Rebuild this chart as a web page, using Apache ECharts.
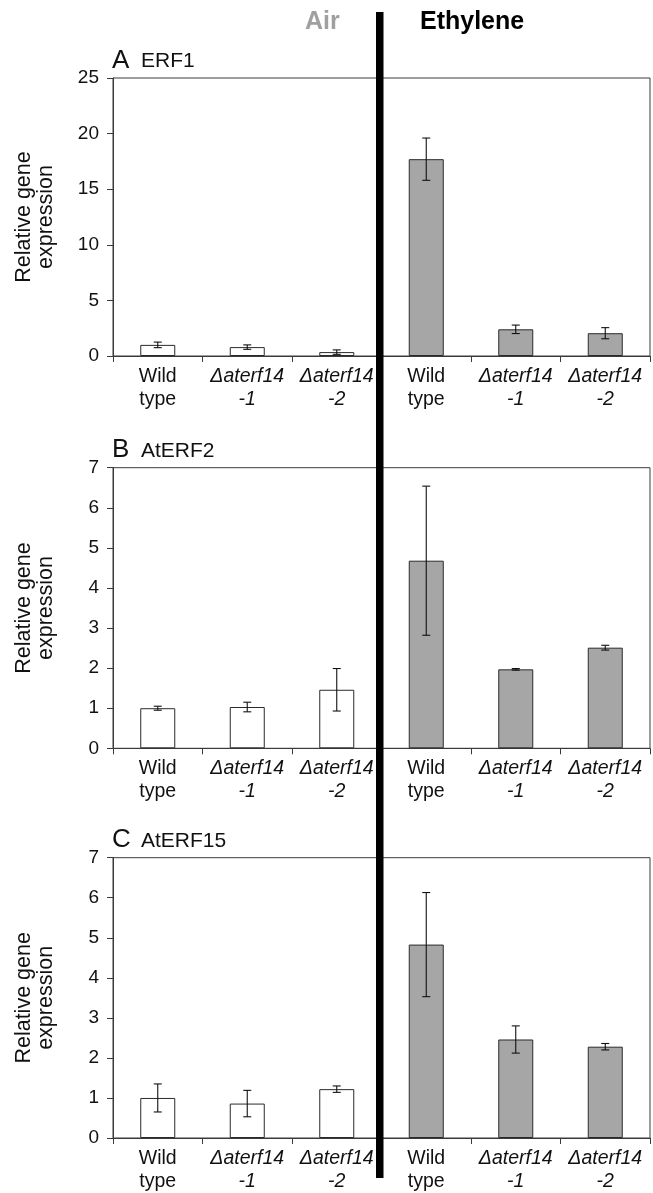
<!DOCTYPE html>
<html><head><meta charset="utf-8">
<script src="https://cdn.jsdelivr.net/npm/echarts@6/dist/echarts.min.js"></script>
<style>html,body{margin:0;padding:0;background:#fff}#c{width:653px;height:1193px}</style>
</head><body><div id="c"></div>
<script>
var categories = ['Wild type', 'Δaterf14 -1', 'Δaterf14 -2', 'Wild type ', 'Δaterf14 -1 ', 'Δaterf14 -2 '];
var treatments = ['Air', 'Ethylene'];
var panelLetters = ['A', 'B', 'C'];
var genes = ['ERF1', 'AtERF2', 'AtERF15'];
var erf1 = [1.0, 0.8, 0.35, 17.7, 2.4, 2.05];
var erf1Err = [0.25, 0.2, 0.2, 1.9, 0.38, 0.5];
var aterf2 = [1.0, 1.03, 1.46, 4.68, 1.97, 2.51];
var aterf2Err = [0.05, 0.12, 0.53, 1.86, 0.02, 0.06];
var aterf15 = [1.0, 0.86, 1.22, 4.83, 2.46, 2.28];
var aterf15Err = [0.35, 0.33, 0.08, 1.3, 0.34, 0.08];
var yMax = [25, 7, 7];
var yInterval = [5, 1, 1];

var values = [erf1, aterf2, aterf15];
var errs = [erf1Err, aterf2Err, aterf15Err];
var gridTops = [78, 467.7, 857.7];
var gridHeights = [278, 280.6, 282];
var FONT = '"Liberation Sans", Arial, sans-serif';
var AXC = '#3a3a3a';

var chart = echarts.init(document.getElementById('c'), null, {renderer: 'canvas'});

var grids = [], xAxes = [], yAxes = [], series = [], graphics = [];
for (var p = 0; p < 3; p++) {
  grids.push({left: 113, right: 3, top: gridTops[p], height: gridHeights[p], show: true,
    borderColor: AXC, borderWidth: 1, backgroundColor: 'transparent', containLabel: false});
  xAxes.push({type: 'category', gridIndex: p, data: categories,
    axisLine: {lineStyle: {color: AXC, width: 1}},
    axisTick: {show: true, inside: false, length: 6, alignWithLabel: false, lineStyle: {color: AXC}},
    axisLabel: {interval: 0, margin: 9, color: '#111', fontFamily: FONT, fontSize: 19.5, lineHeight: 23,
      formatter: function (v) {
        var t = v.trim();
        if (t.indexOf('Wild') === 0) return 'Wild\ntype';
        var parts = t.split(' ');
        return '{i|' + parts[0] + '}\n{i|' + parts[1] + '}';
      },
      rich: {i: {fontStyle: 'italic', fontFamily: FONT, fontSize: 19.5, lineHeight: 23, color: '#111'}}
    }
  });
  yAxes.push({type: 'value', gridIndex: p, min: 0, max: yMax[p], interval: yInterval[p],
    name: 'Relative gene\nexpression', nameLocation: 'middle', nameRotate: 90, nameGap: 56,
    nameTextStyle: {fontFamily: FONT, fontSize: 21.5, lineHeight: 22, color: '#111'},
    axisLine: {show: true, lineStyle: {color: AXC, width: 1}},
    axisTick: {show: true, inside: false, length: 6, lineStyle: {color: AXC}},
    axisLabel: {margin: 14, color: '#111', fontFamily: FONT, fontSize: 19},
    splitLine: {show: false}
  });
  (function (p) {
    series.push({type: 'bar', xAxisIndex: p, yAxisIndex: p, barWidth: 35,
      data: values[p].map(function (v, i) {
        return {value: v, itemStyle: {color: i < 3 ? '#ffffff' : '#a6a6a6', borderColor: '#2a2a2a', borderWidth: 1}};
      }),
      z: 2
    });
    series.push({type: 'custom', xAxisIndex: p, yAxisIndex: p, z: 3,
      data: values[p].map(function (v, i) { return [i, v - errs[p][i], v + errs[p][i]]; }),
      renderItem: function (params, api) {
        var lo = api.coord([api.value(0), api.value(1)]);
        var hi = api.coord([api.value(0), api.value(2)]);
        var x = lo[0], hw = 4;
        var st = {stroke: '#111', lineWidth: 1.1};
        return {type: 'group', children: [
          {type: 'line', shape: {x1: x, y1: lo[1], x2: x, y2: hi[1]}, style: st},
          {type: 'line', shape: {x1: x - hw, y1: lo[1], x2: x + hw, y2: lo[1]}, style: st},
          {type: 'line', shape: {x1: x - hw, y1: hi[1], x2: x + hw, y2: hi[1]}, style: st}
        ]};
      }
    });
  })(p);
}

var letterY = [60.4, 450, 840];
for (var p = 0; p < 3; p++) {
  graphics.push({type: 'text', left: 112, top: letterY[p] - 13, style: {text: panelLetters[p], font: '26px ' + FONT, fill: '#111'}});
  graphics.push({type: 'text', left: 141, top: letterY[p] + 1.5 - 11, style: {text: genes[p], font: '21px ' + FONT, fill: '#111'}});
}
graphics.push({type: 'text', left: 305, top: 10, style: {text: treatments[0], font: 'bold 25px ' + FONT, fill: '#a0a0a0'}});
graphics.push({type: 'text', left: 420, top: 10, style: {text: treatments[1], font: 'bold 25px ' + FONT, fill: '#000'}});
graphics.push({type: 'rect', left: 376, top: 12, z: 100, shape: {width: 7.5, height: 1166}, style: {fill: '#000'}});

chart.setOption({
  animation: false,
  backgroundColor: '#fff',
  grid: grids, xAxis: xAxes, yAxis: yAxes, series: series,
  graphic: graphics
});
</script></body></html>
